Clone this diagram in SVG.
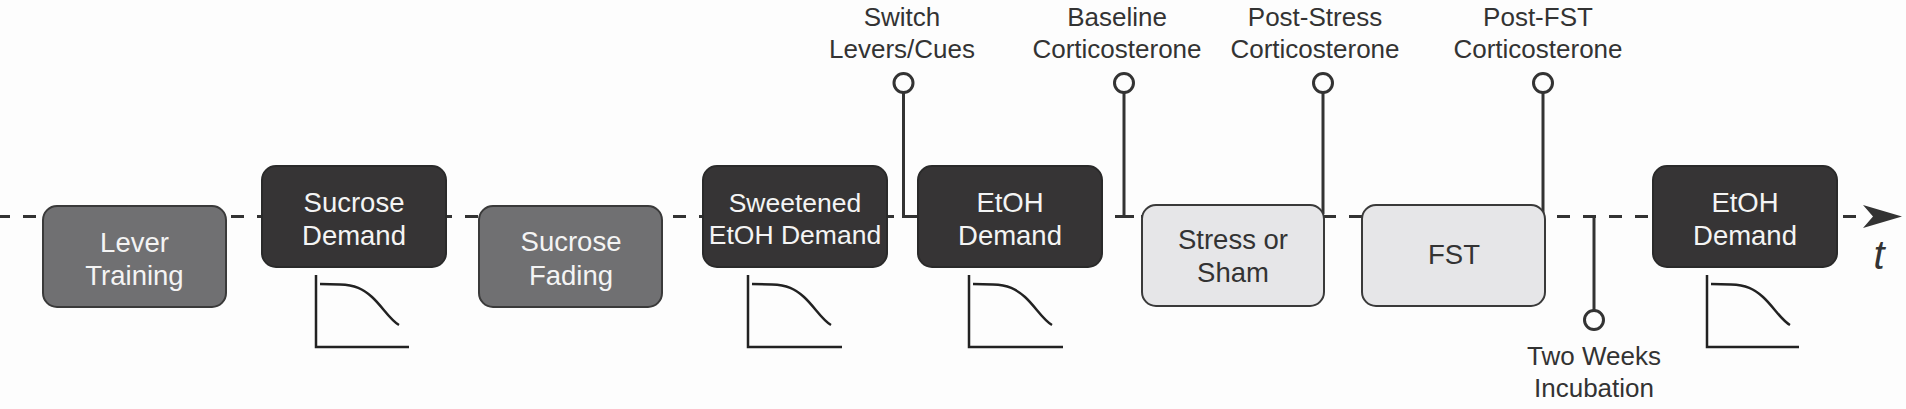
<svg xmlns="http://www.w3.org/2000/svg" width="1906" height="409" viewBox="0 0 1906 409">
<style>
.bg{fill:#fdfdfd}
.tl{stroke:#333;stroke-width:3;fill:none;stroke-dasharray:13 13;stroke-dashoffset:3}
.ln{stroke:#333;stroke-width:3;fill:none}
.pin{stroke:#333;stroke-width:3;fill:#fdfdfd}
.gr{stroke:#222;stroke-width:2.5;fill:none}
.bx-mid{fill:#707072;stroke:#3a3a3a;stroke-width:2}
.bx-dark{fill:#363435;stroke:#2a2a2a;stroke-width:2}
.bx-light{fill:#e6e6e8;stroke:#3a3a3a;stroke-width:2}
text{font-family:"Liberation Sans",Arial,sans-serif;text-anchor:middle}
.lbl{font-size:26px;fill:#333}
.wt{font-size:27.5px;fill:#f4f4f4}
.dk{font-size:27.5px;fill:#333}
</style>
<defs>
<path id="curve" d="M4,0 L24,0.5 C39,1 47,5 56,13 C66,22 74,36 83,41" class="gr"/>
</defs>
<rect class="bg" x="0" y="0" width="1906" height="409"/>

<g id="connectors">
<line class="tl" x1="0" y1="216.5" x2="1860" y2="216.5"/>
<polygon points="1902,216.5 1863,205 1873,216.5 1863,228" fill="#333"/>
<g id="pins">
<line class="ln" x1="903.5" y1="92" x2="903.5" y2="216.5"/>
<line class="ln" x1="902" y1="216.5" x2="917" y2="216.5"/>
<circle class="pin" cx="903.5" cy="83" r="9.5"/>
<line class="ln" x1="1124" y1="92" x2="1124" y2="216.5"/>
<line class="ln" x1="1120" y1="216.5" x2="1134" y2="216.5"/>
<circle class="pin" cx="1124" cy="83" r="9.5"/>
<line class="ln" x1="1323" y1="92" x2="1323" y2="214"/>
<circle class="pin" cx="1323" cy="83" r="9.5"/>
<line class="ln" x1="1543" y1="92" x2="1543" y2="214"/>
<circle class="pin" cx="1543" cy="83" r="9.5"/>
<line class="ln" x1="1594" y1="216.5" x2="1594" y2="310"/>
<circle class="pin" cx="1594" cy="320" r="9.5"/>
</g>
</g>

<g id="labels">
<text class="lbl" x="902" y="26">Switch</text>
<text class="lbl" x="902" y="57.5">Levers/Cues</text>
<text class="lbl" x="1117" y="26">Baseline</text>
<text class="lbl" x="1117" y="57.5">Corticosterone</text>
<text class="lbl" x="1315" y="26">Post-Stress</text>
<text class="lbl" x="1315" y="57.5">Corticosterone</text>
<text class="lbl" x="1538" y="26">Post-FST</text>
<text class="lbl" x="1538" y="57.5">Corticosterone</text>
<text class="lbl" x="1594" y="365">Two Weeks</text>
<text class="lbl" x="1594" y="397">Incubation</text>
<text x="1879" y="269" style="font-size:40px;font-style:italic;fill:#333">t</text>
</g>

<g id="lever-training">
<rect class="bx-mid" x="43" y="206" width="183" height="101" rx="14"/>
<text class="wt" x="134.5" y="251.5">Lever</text>
<text class="wt" x="134.5" y="285">Training</text>
</g>

<g id="sucrose-demand">
<rect class="bx-dark" x="262" y="166" width="184" height="101" rx="14"/>
<text class="wt" x="354" y="211.5">Sucrose</text>
<text class="wt" x="354" y="245">Demand</text>
<path class="gr" d="M316,275 V347 H409"/>
<use href="#curve" x="316" y="284"/>
</g>

<g id="sucrose-fading">
<rect class="bx-mid" x="479" y="206" width="183" height="101" rx="14"/>
<text class="wt" x="571" y="250.5">Sucrose</text>
<text class="wt" x="571" y="285">Fading</text>
</g>

<g id="sweetened-etoh-demand">
<rect class="bx-dark" x="703" y="166" width="184" height="101" rx="14"/>
<text class="wt" x="795" y="211.5" style="font-size:26.5px">Sweetened</text>
<text class="wt" x="795" y="243.5" style="font-size:26.5px">EtOH Demand</text>
<path class="gr" d="M748,275 V347 H842"/>
<use href="#curve" x="748" y="284"/>
</g>

<g id="etoh-demand-1">
<rect class="bx-dark" x="918" y="166" width="184" height="101" rx="14"/>
<text class="wt" x="1010" y="211.5">EtOH</text>
<text class="wt" x="1010" y="245">Demand</text>
<path class="gr" d="M969,275 V347 H1063"/>
<use href="#curve" x="969" y="284"/>
</g>

<g id="stress-or-sham">
<rect class="bx-light" x="1142" y="205" width="182" height="101" rx="14"/>
<text class="dk" x="1233" y="249">Stress or</text>
<text class="dk" x="1233" y="282">Sham</text>
</g>

<g id="fst">
<rect class="bx-light" x="1362" y="205" width="183" height="101" rx="14"/>
<text class="dk" x="1454" y="263.5">FST</text>
</g>

<g id="etoh-demand-2">
<rect class="bx-dark" x="1653" y="166" width="184" height="101" rx="14"/>
<text class="wt" x="1745" y="211.5">EtOH</text>
<text class="wt" x="1745" y="245">Demand</text>
<path class="gr" d="M1707,275 V347 H1799"/>
<use href="#curve" x="1707" y="284"/>
</g>
</svg>
